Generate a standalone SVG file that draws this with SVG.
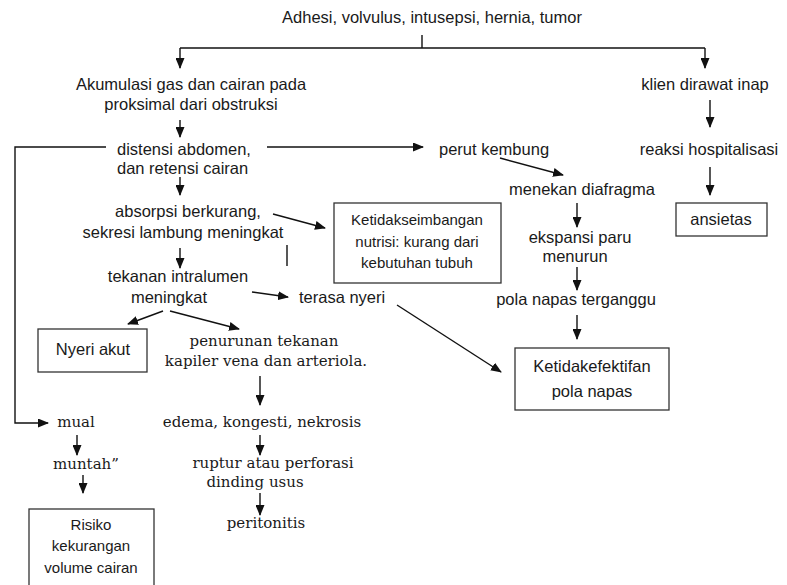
<svg xmlns="http://www.w3.org/2000/svg" width="787" height="585" viewBox="0 0 787 585">
<style>
text{font-family:"Liberation Sans",Arial,sans-serif;font-size:16.5px;fill:#1a1a1a;}
.m{text-anchor:middle;}
.s{font-family:"DejaVu Serif","Liberation Serif",serif;font-size:15px;}
.b{font-size:15px;}
.box{fill:none;stroke:#333;stroke-width:1.3;}
.c line,.c polyline{stroke:#111;stroke-width:1.4;fill:none;}
.a{marker-end:url(#ah);}
</style>
<defs>
<marker id="ah" markerUnits="userSpaceOnUse" markerWidth="11" markerHeight="9" refX="10" refY="4.5" orient="auto" viewBox="0 0 11 9">
<path d="M0,0 L11,4.5 L0,9 z" fill="#111"/>
</marker>
</defs>
<rect width="787" height="585" fill="#fff"/>
<g class="c" id="connectors">
<line x1="422" y1="35" x2="422" y2="48"/>
<line x1="180" y1="48" x2="705" y2="48"/>
<line class="a" x1="180" y1="48" x2="180" y2="68"/>
<line class="a" x1="705" y1="48" x2="705" y2="68"/>
<line class="a" x1="180" y1="120" x2="180" y2="137"/>
<polyline class="a" points="106,147 15,147 15,423 48,423"/>
<line class="a" x1="267" y1="147" x2="423" y2="147"/>
<line class="a" x1="180" y1="177" x2="180" y2="195"/>
<line class="a" x1="273" y1="214" x2="325" y2="228"/>
<line x1="287" y1="245" x2="287" y2="266"/>
<line class="a" x1="180" y1="248" x2="180" y2="268"/>
<line class="a" x1="252" y1="292" x2="288" y2="297"/>
<line class="a" x1="163" y1="311" x2="128" y2="324"/>
<line class="a" x1="170" y1="311" x2="239" y2="329"/>
<line class="a" x1="397" y1="305" x2="501" y2="372"/>
<line class="a" x1="500" y1="158" x2="563" y2="175"/>
<line class="a" x1="577" y1="203" x2="577" y2="227"/>
<line class="a" x1="577" y1="267" x2="577" y2="290"/>
<line class="a" x1="577" y1="315" x2="577" y2="339"/>
<line class="a" x1="710" y1="100" x2="710" y2="127"/>
<line class="a" x1="710" y1="167" x2="710" y2="195"/>
<line class="a" x1="260" y1="376" x2="260" y2="405"/>
<line class="a" x1="260" y1="435" x2="260" y2="455"/>
<line class="a" x1="260" y1="493" x2="260" y2="515"/>
<line class="a" x1="77" y1="435" x2="77" y2="455"/>
<line class="a" x1="83" y1="475" x2="83" y2="493"/>
</g>
<g id="n-penyebab"><text class="m" x="432" y="23">Adhesi, volvulus, intusepsi, hernia, tumor</text></g>
<g id="n-akumulasi"><text class="m" x="191" y="90">Akumulasi gas dan cairan pada</text><text class="m" x="191" y="110">proksimal dari obstruksi</text></g>
<g id="n-distensi"><text x="117" y="155">distensi abdomen,</text><text x="117" y="174">dan retensi cairan</text></g>
<g id="n-absorpsi"><text class="m" x="188" y="217">absorpsi berkurang,</text><text class="m" x="183" y="238">sekresi lambung meningkat</text></g>
<g id="n-tekanan"><text class="m" x="178" y="282">tekanan intralumen</text><text class="m" x="169" y="303">meningkat</text></g>
<g id="n-nyeri"><text x="299" y="303">terasa nyeri</text></g>
<g id="n-nyeriakut"><rect class="box" x="38" y="329" width="109" height="43"/><text class="m" x="93" y="355">Nyeri akut</text></g>
<g id="n-penurunan"><text class="m s" x="264" y="346">penurunan tekanan</text><text class="m s" x="266" y="366">kapiler vena dan arteriola.</text></g>
<g id="n-edema"><text class="m s" x="262" y="427">edema, kongesti, nekrosis</text></g>
<g id="n-ruptur"><text class="m s" x="273" y="468">ruptur atau perforasi</text><text class="m s" x="255" y="487">dinding usus</text></g>
<g id="n-peritonitis"><text class="m s" x="266" y="528">peritonitis</text></g>
<g id="n-mual"><text class="m s" x="76" y="427">mual</text></g>
<g id="n-muntah"><text class="m s" x="86" y="469">muntah”</text></g>
<g id="n-risiko"><rect class="box" x="29" y="509" width="125" height="84"/><text class="m b" x="91" y="530">Risiko</text><text class="m b" x="91" y="551">kekurangan</text><text class="m b" x="91" y="573">volume cairan</text></g>
<g id="n-nutrisi"><rect class="box" x="334" y="203" width="167" height="80"/><text class="m b" x="417" y="225">Ketidakseimbangan</text><text class="m b" x="417" y="247">nutrisi: kurang dari</text><text class="m b" x="417" y="268">kebutuhan tubuh</text></g>
<g id="n-perut"><text x="439" y="155">perut kembung</text></g>
<g id="n-diafragma"><text class="m" x="582" y="195">menekan diafragma</text></g>
<g id="n-ekspansi"><text class="m" x="580" y="243">ekspansi paru</text><text class="m" x="575" y="262">menurun</text></g>
<g id="n-pola"><text class="m" x="576" y="305">pola napas terganggu</text></g>
<g id="n-ketidakefektifan"><rect class="box" x="515" y="348" width="154" height="62"/><text class="m" x="592" y="372">Ketidakefektifan</text><text class="m" x="592" y="397">pola napas</text></g>
<g id="n-klien"><text class="m" x="705" y="90">klien dirawat inap</text></g>
<g id="n-reaksi"><text class="m" x="709" y="155">reaksi hospitalisasi</text></g>
<g id="n-ansietas"><rect class="box" x="676" y="203" width="91" height="33"/><text class="m" x="721" y="225">ansietas</text></g>
</svg>
